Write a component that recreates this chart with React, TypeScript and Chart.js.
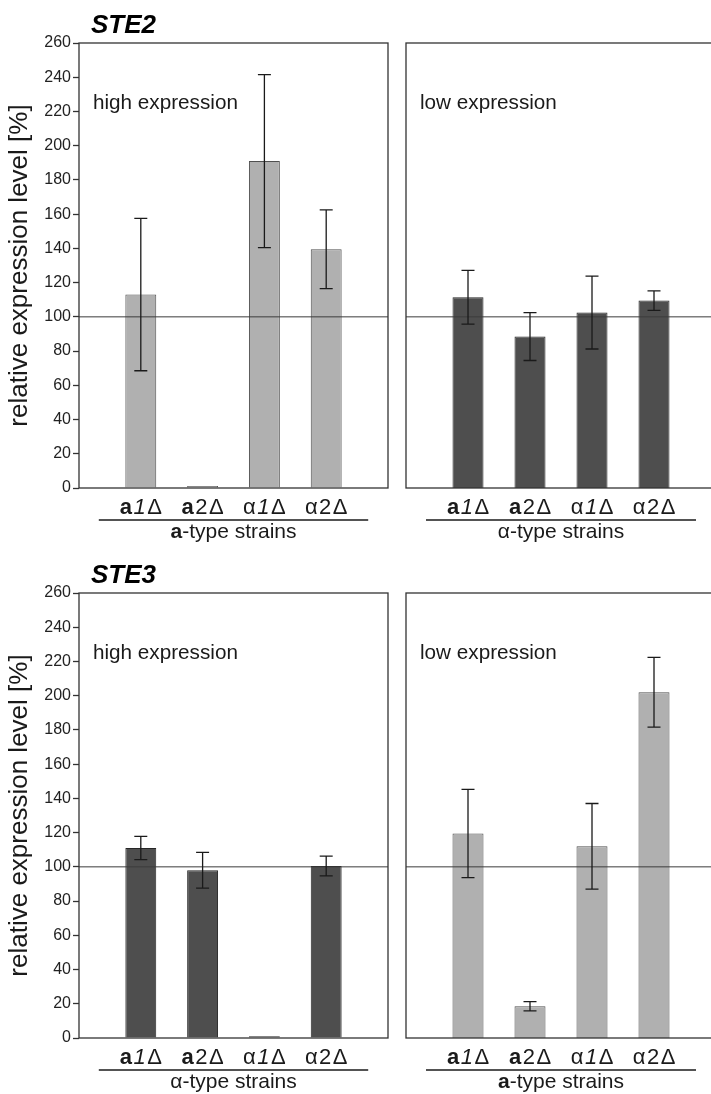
import React, { useEffect, useRef } from 'react';
import { Chart, registerables } from 'chart.js';

Chart.register(...registerables);

// ---- data ----
const strains = ['a1Δ', 'a2Δ', 'α1Δ', 'α2Δ'];
const yMin = 0;
const yMax = 260;
const yStep = 20;
const referenceLevel = 100;

const ste2HighMean = [113, 1.2, 191, 139.5];
const ste2HighErr = [44.5, 0, 50.5, 23];
const ste2LowMean = [111.5, 88.5, 102.5, 109.5];
const ste2LowErr = [15.7, 14, 21.3, 5.7];

const ste3HighMean = [111, 98, 1, 100.5];
const ste3HighErr = [6.8, 10.4, 0, 5.8];
const ste3LowMean = [119.5, 18.5, 112, 202];
const ste3LowErr = [25.8, 2.7, 25, 20.4];

const FONT = "'Liberation Sans', Arial, Helvetica, sans-serif";
const LIGHT = '#b0b0b0';
const LIGHT_EDGE = '#505050';
const DARK = '#4e4e4e';
const DARK_EDGE = '#262626';
const INK = '#1a1a1a';

type Part = { text: string; style: string };

function strainParts(s: string): Part[] {
  const first = s[0];
  const digit = s[1];
  return [
    { text: first, style: first === 'a' ? 'bold' : 'normal' },
    { text: digit, style: digit === '1' ? 'italic' : 'normal' },
    { text: s.slice(2), style: 'normal' },
  ];
}

function groupParts(mating: string): Part[] {
  return [
    { text: mating, style: mating === 'a' ? 'bold' : 'normal' },
    { text: '-type strains', style: 'normal' },
  ];
}

function drawParts(ctx: CanvasRenderingContext2D, parts: Part[], cx: number, y: number, size: number, gap: number) {
  const fonts = parts.map((p) => `${p.style} ${size}px ${FONT}`);
  let total = gap * (parts.length - 1);
  const widths = parts.map((p, i) => {
    ctx.font = fonts[i];
    const w = ctx.measureText(p.text).width;
    total += w;
    return w;
  });
  let x = cx - total / 2;
  ctx.textAlign = 'left';
  ctx.textBaseline = 'alphabetic';
  parts.forEach((p, i) => {
    ctx.font = fonts[i];
    ctx.fillText(p.text, x, y);
    x += widths[i] + gap;
  });
}

type Spec = {
  left: number;
  top: number;
  width: number;
  height: number;
  showY: boolean;
  mean: number[];
  err: number[];
  fill: string;
  edge: string;
  note: string;
  group: string;
  title?: string;
};

const PLOT_TOP = 43;
const PLOT_BOTTOM = 488;

const panels: Spec[] = [
  { left: 0, top: 0, width: 400, height: 550, showY: true, mean: ste2HighMean, err: ste2HighErr, fill: LIGHT, edge: LIGHT_EDGE, note: 'high expression', group: 'a', title: 'STE2' },
  { left: 400, top: 0, width: 320, height: 550, showY: false, mean: ste2LowMean, err: ste2LowErr, fill: DARK, edge: DARK_EDGE, note: 'low expression', group: 'α' },
  { left: 0, top: 550, width: 400, height: 544, showY: true, mean: ste3HighMean, err: ste3HighErr, fill: DARK, edge: DARK_EDGE, note: 'high expression', group: 'α', title: 'STE3' },
  { left: 400, top: 550, width: 320, height: 544, showY: false, mean: ste3LowMean, err: ste3LowErr, fill: LIGHT, edge: LIGHT_EDGE, note: 'low expression', group: 'a' },
];

function makeChart(canvas: HTMLCanvasElement, spec: Spec) {
  const decor = {
    id: 'decor',
    afterDraw(chart: any) {
      const { ctx, chartArea: a } = chart;
      const xs = chart.scales.x;
      const ys = chart.scales.y;
      ctx.save();

      // reference line at 100 %
      const yRef = ys.getPixelForValue(referenceLevel);
      ctx.strokeStyle = '#3a3a3a';
      ctx.lineWidth = 1;
      ctx.beginPath();
      ctx.moveTo(a.left, yRef);
      ctx.lineTo(a.right, yRef);
      ctx.stroke();

      // error bars
      const meta = chart.getDatasetMeta(0);
      ctx.strokeStyle = INK;
      ctx.lineWidth = 1.3;
      spec.mean.forEach((m, i) => {
        const e = spec.err[i];
        if (!e) return;
        const bar = meta.data[i + 1];
        const x = bar.x;
        const yT = ys.getPixelForValue(m + e);
        const yB = ys.getPixelForValue(m - e);
        ctx.beginPath();
        ctx.moveTo(x, yT);
        ctx.lineTo(x, yB);
        ctx.moveTo(x - 6.5, yT);
        ctx.lineTo(x + 6.5, yT);
        ctx.moveTo(x - 6.5, yB);
        ctx.lineTo(x + 6.5, yB);
        ctx.stroke();
      });

      // frame
      ctx.strokeStyle = '#333';
      ctx.lineWidth = 1.3;
      ctx.strokeRect(a.left, a.top, a.right - a.left, a.bottom - a.top);

      // note
      ctx.fillStyle = INK;
      ctx.font = `20.7px ${FONT}`;
      ctx.textAlign = 'left';
      ctx.textBaseline = 'alphabetic';
      ctx.fillText(spec.note, a.left + 14, a.top + 66);

      // tick labels
      strains.forEach((s, i) => {
        const cx = xs.getPixelForValue(i + 1);
        drawParts(ctx, strainParts(s), cx, a.bottom + 25.5, 22, 1.5);
      });

      // underline
      const x1 = xs.getPixelForValue(1) - 42;
      const x4 = xs.getPixelForValue(strains.length) + 42;
      ctx.strokeStyle = INK;
      ctx.lineWidth = 1.3;
      ctx.beginPath();
      ctx.moveTo(x1, a.bottom + 32);
      ctx.lineTo(x4, a.bottom + 32);
      ctx.stroke();

      // group label
      const gc = (xs.getPixelForValue(2) + xs.getPixelForValue(3)) / 2;
      drawParts(ctx, groupParts(spec.group), gc, a.bottom + 50, 21, 0);

      // gene title
      if (spec.title) {
        ctx.fillStyle = '#000';
        ctx.font = `italic bold 26px ${FONT}`;
        ctx.textAlign = 'left';
        ctx.fillText(spec.title, a.left + 12, a.top - 10);
      }
      ctx.restore();
    },
  };

  return new Chart(canvas, {
    type: 'bar',
    data: {
      labels: ['', ...strains, ''],
      datasets: [
        {
          data: [null, ...spec.mean, null],
          backgroundColor: spec.fill,
          borderColor: spec.edge,
          borderWidth: 1,
          barPercentage: 0.5,
          categoryPercentage: 1,
        },
      ],
    },
    options: {
      animation: false,
      responsive: false,
      devicePixelRatio: 1,
      layout: {
        padding: {
          top: PLOT_TOP,
          bottom: spec.height - PLOT_BOTTOM,
          left: spec.showY ? 0 : 6,
          right: spec.showY ? spec.width - 388 : spec.width - 316,
        },
      },
      plugins: { legend: { display: false }, tooltip: { enabled: false } },
      scales: {
        x: { type: 'category', offset: false, display: false },
        y: {
          min: yMin,
          max: yMax,
          display: spec.showY,
          afterFit: (s: any) => {
            if (spec.showY) s.width = 79;
          },
          ticks: { stepSize: yStep, font: { size: 16, family: FONT }, color: '#222', padding: 2 },
          grid: { drawOnChartArea: false, drawTicks: true, tickLength: 6, tickColor: '#333', tickWidth: 1.3 },
          border: { display: false },
          title: {
            display: true,
            text: 'relative expression level [%]',
            font: { size: 26, family: FONT },
            color: INK,
            padding: { top: 4, bottom: 0 },
          },
        },
      },
    },
    plugins: [decor],
  } as any);
}

function Panel({ spec }: { spec: Spec }) {
  const ref = useRef<HTMLCanvasElement>(null);
  useEffect(() => {
    const chart = makeChart(ref.current as HTMLCanvasElement, spec);
    return () => chart.destroy();
  }, [spec]);
  return (
    <canvas
      ref={ref}
      width={spec.width}
      height={spec.height}
      style={{ position: 'absolute', left: spec.left, top: spec.top, width: spec.width, height: spec.height }}
    />
  );
}

export default function App() {
  return (
    <div
      style={{
        position: 'absolute',
        left: 0,
        top: 0,
        width: 711,
        height: 1094,
        overflow: 'hidden',
        background: '#fff',
      }}
    >
      {panels.map((p, i) => (
        <Panel key={i} spec={p} />
      ))}
    </div>
  );
}
